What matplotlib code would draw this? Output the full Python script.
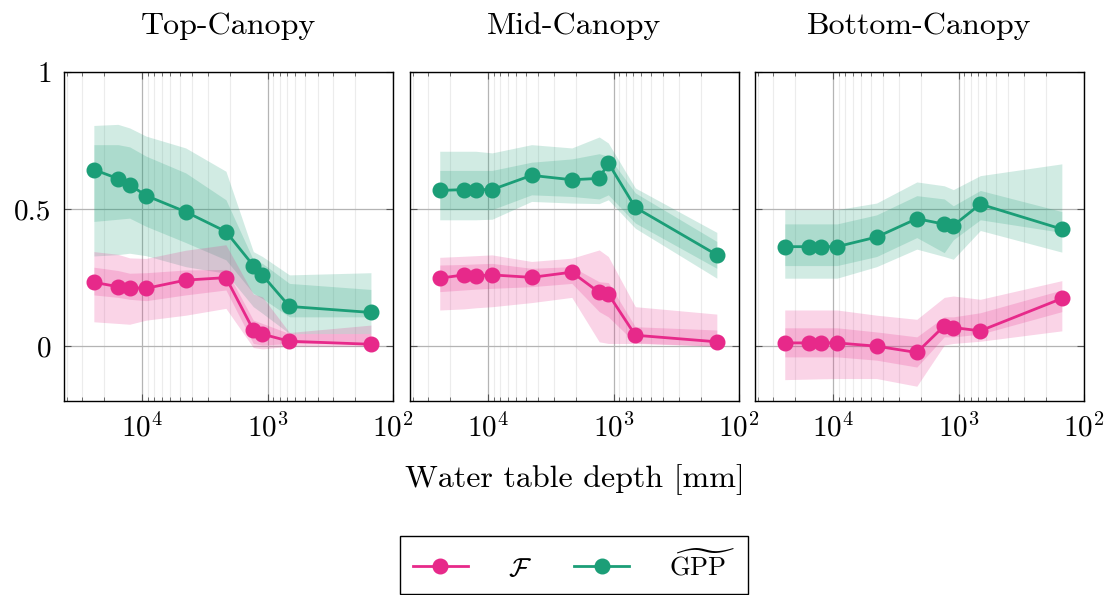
import matplotlib

matplotlib.use("Agg")

import matplotlib.pyplot as plt
from matplotlib.lines import Line2D
from matplotlib.ticker import FixedLocator, LogLocator, NullFormatter

plt.rcParams["font.family"] = ["cmr10"]
plt.rcParams["mathtext.fontset"] = "cm"
plt.rcParams["axes.formatter.use_mathtext"] = True

PINK = "#e7298a"
GREEN = "#1b9e77"

# water table depth [mm], shared by all panels
depth = [24300, 15600, 12600, 9300, 4500, 2150, 1300, 1100, 670, 150]

titles = ["Top-Canopy", "Mid-Canopy", "Bottom-Canopy"]

# --- Top canopy ---
top_gpp = [0.644, 0.611, 0.589, 0.549, 0.490, 0.418, 0.294, 0.259, 0.145, 0.123]
top_gpp_hi2 = [0.805, 0.809, 0.796, 0.766, 0.723, 0.638, 0.345, 0.327, 0.260, 0.268]
top_gpp_hi1 = [0.735, 0.735, 0.727, 0.693, 0.632, 0.534, 0.315, 0.302, 0.229, 0.207]
top_gpp_lo1 = [0.455, 0.463, 0.467, 0.437, 0.378, 0.315, 0.193, 0.174, 0.107, 0.107]
top_gpp_lo2 = [0.329, 0.334, 0.339, 0.330, 0.290, 0.266, 0.144, 0.120, 0.046, 0.046]
top_f = [0.233, 0.217, 0.213, 0.211, 0.241, 0.250, 0.059, 0.044, 0.018, 0.007]
top_f_hi2 = [0.345, 0.335, 0.322, 0.320, 0.350, 0.370, 0.190, 0.180, 0.050, 0.077]
top_f_hi1 = [0.288, 0.276, 0.266, 0.268, 0.278, 0.280, 0.095, 0.083, 0.046, 0.046]
top_f_lo1 = [0.187, 0.178, 0.171, 0.166, 0.187, 0.205, 0.010, 0.004, 0.010, 0.010]
top_f_lo2 = [0.089, 0.083, 0.080, 0.095, 0.113, 0.138, -0.005, -0.010, 0.000, 0.000]

# --- Mid canopy ---
mid_gpp = [0.568, 0.571, 0.571, 0.571, 0.623, 0.607, 0.612, 0.668, 0.506, 0.333]
mid_gpp_hi2 = [0.711, 0.711, 0.711, 0.705, 0.735, 0.723, 0.763, 0.741, 0.577, 0.415]
mid_gpp_hi1 = [0.641, 0.641, 0.641, 0.641, 0.671, 0.683, 0.702, 0.693, 0.559, 0.382]
mid_gpp_lo1 = [0.498, 0.498, 0.498, 0.498, 0.552, 0.546, 0.537, 0.552, 0.449, 0.284]
mid_gpp_lo2 = [0.461, 0.461, 0.461, 0.463, 0.528, 0.522, 0.520, 0.534, 0.430, 0.248]
mid_f = [0.248, 0.260, 0.256, 0.260, 0.251, 0.270, 0.196, 0.190, 0.040, 0.016]
mid_f_hi2 = [0.324, 0.328, 0.330, 0.333, 0.309, 0.321, 0.351, 0.327, 0.144, 0.117]
mid_f_hi1 = [0.296, 0.298, 0.300, 0.302, 0.284, 0.290, 0.235, 0.232, 0.071, 0.059]
mid_f_lo1 = [0.199, 0.205, 0.208, 0.211, 0.217, 0.229, 0.126, 0.107, 0.012, 0.000]
mid_f_lo2 = [0.132, 0.136, 0.140, 0.144, 0.159, 0.178, 0.016, 0.010, 0.010, 0.000]

# --- Bottom canopy ---
bot_gpp = [0.363, 0.363, 0.363, 0.363, 0.398, 0.465, 0.445, 0.440, 0.518, 0.427]
bot_gpp_hi2 = [0.498, 0.498, 0.498, 0.498, 0.522, 0.599, 0.585, 0.571, 0.622, 0.665]
bot_gpp_hi1 = [0.446, 0.446, 0.446, 0.446, 0.479, 0.549, 0.537, 0.512, 0.568, 0.491]
bot_gpp_lo1 = [0.294, 0.294, 0.294, 0.294, 0.327, 0.396, 0.341, 0.388, 0.461, 0.415]
bot_gpp_lo2 = [0.248, 0.248, 0.248, 0.248, 0.290, 0.354, 0.327, 0.317, 0.422, 0.343]
bot_f = [0.012, 0.012, 0.012, 0.012, 0.000, -0.023, 0.074, 0.068, 0.056, 0.174]
bot_f_hi2 = [0.132, 0.132, 0.132, 0.132, 0.113, 0.098, 0.178, 0.183, 0.171, 0.239]
bot_f_hi1 = [0.067, 0.067, 0.067, 0.067, 0.052, 0.034, 0.107, 0.107, 0.122, 0.205]
bot_f_lo1 = [-0.039, -0.039, -0.039, -0.039, -0.051, -0.076, 0.034, 0.034, 0.044, 0.126]
bot_f_lo2 = [-0.122, -0.120, -0.119, -0.118, -0.118, -0.146, 0.004, 0.010, 0.018, 0.056]

panels = [
    (top_f, top_f_lo2, top_f_hi2, top_f_lo1, top_f_hi1,
     top_gpp, top_gpp_lo2, top_gpp_hi2, top_gpp_lo1, top_gpp_hi1),
    (mid_f, mid_f_lo2, mid_f_hi2, mid_f_lo1, mid_f_hi1,
     mid_gpp, mid_gpp_lo2, mid_gpp_hi2, mid_gpp_lo1, mid_gpp_hi1),
    (bot_f, bot_f_lo2, bot_f_hi2, bot_f_lo1, bot_f_hi1,
     bot_gpp, bot_gpp_lo2, bot_gpp_hi2, bot_gpp_lo1, bot_gpp_hi1),
]

fig = plt.figure(figsize=(11.14, 5.95), dpi=100)
lefts = [0.0575, 0.368, 0.6777]
axes = [fig.add_axes([l, 0.326, 0.2953, 0.553]) for l in lefts]

for i, (ax, title, p) in enumerate(zip(axes, titles, panels)):
    f, f_lo2, f_hi2, f_lo1, f_hi1, g, g_lo2, g_hi2, g_lo1, g_hi1 = p

    for lo, hi in [(g_lo2, g_hi2), (g_lo1, g_hi1)]:
        ax.fill_between(depth, lo, hi, color=GREEN, alpha=0.2, lw=0, zorder=2)
    for lo, hi in [(f_lo2, f_hi2), (f_lo1, f_hi1)]:
        ax.fill_between(depth, lo, hi, color=PINK, alpha=0.2, lw=0, zorder=2)

    ax.plot(depth, f, color=PINK, marker="o", ms=10.5, lw=2.0, zorder=4)
    ax.plot(depth, g, color=GREEN, marker="o", ms=10.5, lw=2.0, zorder=4)

    ax.set_xscale("log")
    ax.set_xlim(42000, 100)
    ax.set_ylim(-0.2, 1)
    ax.xaxis.set_major_locator(FixedLocator([1e4, 1e3, 1e2]))
    ax.xaxis.set_minor_locator(LogLocator(base=10, subs=range(2, 10), numticks=20))
    ax.xaxis.set_minor_formatter(NullFormatter())
    ax.set_yticks([0, 0.5, 1])
    if i == 0:
        ax.set_yticklabels(["0", "0.5", "1"])
    else:
        ax.set_yticklabels([])

    ax.grid(True, which="major", color="#b4b4b4", lw=0.9, zorder=1)
    ax.grid(True, which="minor", axis="x", color="#ececec", lw=0.8, zorder=1)
    ax.tick_params(which="both", direction="in", top=True, right=True,
                   labelsize=21, color="#555555")
    ax.tick_params(which="major", length=5, width=0.8, pad=9)
    ax.tick_params(which="minor", length=3, width=0.6)
    for s in ax.spines.values():
        s.set_linewidth(1.0)
        s.set_color("black")

    ax.set_title(title, fontsize=23, pad=27)

axes[1].set_xlabel("Water table depth [mm]", fontsize=23, labelpad=15)

handles = [
    Line2D([], [], color=PINK, marker="o", ms=10.5, lw=2.0),
    Line2D([], [], color=GREEN, marker="o", ms=10.5, lw=2.0),
]
fig.legend(handles, [r"$\mathcal{F}$", r"$\widetilde{\mathrm{GPP}}$"],
           loc="center", bbox_to_anchor=(0.515, 0.051), ncol=2, fontsize=19,
           frameon=True, fancybox=False, edgecolor="black", framealpha=1,
           handlelength=2.1, handletextpad=1.5, columnspacing=1.6,
           borderpad=0.5)

fig.savefig("out.png", dpi=100)
